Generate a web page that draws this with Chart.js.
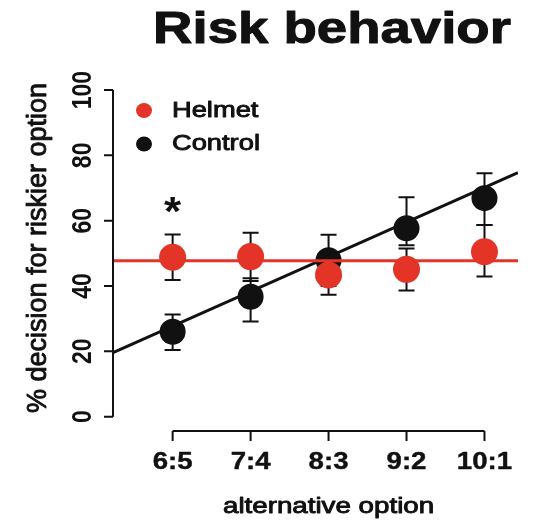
<!DOCTYPE html>
<html>
<head>
<meta charset="utf-8">
<script src="https://cdn.jsdelivr.net/npm/chart.js@4"></script>
<style>
  html, body { margin: 0; padding: 0; background: #fff; }
  #wrap { width: 545px; height: 521px; }
</style>
</head>
<body>
<div id="wrap"><canvas id="risk-chart"></canvas></div>
<script>
"use strict";

// values
const categories = ['6:5', '7:4', '8:3', '9:2', '10:1'];
const helmet_mean = [48.8, 49.0, 43.4, 45.1, 50.5];
const helmet_upper = [55.8, 56.3, 49.5, 51.5, 58.7];
const helmet_lower = [41.8, 41.5, 37.3, 38.6, 42.9];
const control_mean = [26.0, 36.7, 47.9, 57.7, 66.9];
const control_upper = [31.3, 42.4, 55.7, 67.2, 74.5];
const control_lower = [20.4, 29.1, 40.0, 52.5, 58.7];
// fitted lines, ends at the plot edges
const fit_x = [-0.765, 4.43];
const helmet_fit = [47.7, 47.7];
const control_fit = [19.6, 74.7];
const y_ticks = [0, 20, 40, 60, 80, 100];
const star_category = [0];
const star_value = [64.8];

const RED = 'rgb(228, 52, 40)';
const BLACK = '#111111';
const FONT = '"Liberation Sans", Arial, Helvetica, sans-serif';

function to_points (xs, ys) {
    return ys.map((y, i) => ({x: xs[i], y: y}));
}

// text helper, sx widens the text on screen the way the figure is widened,
// weight adds a thin outline so the text looks as heavy as the blurry original
function put_text (ctx, text, x, y, font, sx, rot, align, baseline, weight) {
    ctx.save();
    ctx.translate(x, y);
    ctx.scale(sx, 1);
    ctx.rotate(rot);
    ctx.font = font;
    ctx.textAlign = align;
    ctx.textBaseline = baseline;
    ctx.fillStyle = BLACK;
    ctx.fillText(text, 0, 0);
    if (weight) {
        ctx.strokeStyle = BLACK;
        ctx.lineWidth = weight;
        ctx.lineJoin = 'round';
        ctx.strokeText(text, 0, 0);
    }
    ctx.restore();
}

const error_bars = {
    id: 'error_bars',
    beforeDatasetDraw (chart, args) {
        const ds = chart.data.datasets[args.index];
        if (!ds.upper) return;
        const ctx = chart.ctx;
        const xs = chart.scales.x, ys = chart.scales.y;
        ctx.save();
        ctx.strokeStyle = BLACK;
        ctx.lineWidth = 2;
        ds.data.forEach((p, i) => {
            const px = xs.getPixelForValue(p.x);
            const top = ys.getPixelForValue(ds.upper[i]);
            const bot = ys.getPixelForValue(ds.lower[i]);
            ctx.beginPath();
            ctx.moveTo(px, top); ctx.lineTo(px, bot);
            ctx.moveTo(px - 8, top); ctx.lineTo(px + 8, top);
            ctx.moveTo(px - 8, bot); ctx.lineTo(px + 8, bot);
            ctx.stroke();
        });
        ctx.restore();
    }
};

const r_axes = {
    id: 'r_axes',
    afterDraw (chart) {
        const ctx = chart.ctx;
        const area = chart.chartArea;
        const xs = chart.scales.x, ys = chart.scales.y;
        ctx.save();
        ctx.strokeStyle = BLACK;
        ctx.lineWidth = 2;

        // y axis
        const y0 = ys.getPixelForValue(y_ticks[0]);
        const y1 = ys.getPixelForValue(y_ticks[y_ticks.length - 1]);
        ctx.beginPath();
        ctx.moveTo(area.left, y0); ctx.lineTo(area.left, y1);
        y_ticks.forEach((t) => {
            const py = ys.getPixelForValue(t);
            ctx.moveTo(area.left, py); ctx.lineTo(area.left - 9, py);
        });
        // x axis
        const x0 = xs.getPixelForValue(0);
        const x1 = xs.getPixelForValue(categories.length - 1);
        ctx.moveTo(x0, area.bottom); ctx.lineTo(x1, area.bottom);
        categories.forEach((c, i) => {
            const px = xs.getPixelForValue(i);
            ctx.moveTo(px, area.bottom); ctx.lineTo(px, area.bottom + 10);
        });
        ctx.stroke();
        ctx.restore();

        y_ticks.forEach((t) => {
            put_text(ctx, String(t), 83, ys.getPixelForValue(t), 'bold 23px ' + FONT, 1.2, -Math.PI / 2, 'center', 'middle', 0);
        });
        categories.forEach((c, i) => {
            put_text(ctx, c, xs.getPixelForValue(i), 463, 'bold 23px ' + FONT, 1.2, 0, 'center', 'middle', 0.4);
        });

        // axis titles and title
        put_text(ctx, 'alternative option', (x0 + x1) / 2, 507, '22px ' + FONT, 1.26, 0, 'center', 'middle', 0.9);
        put_text(ctx, '% decision for riskier option', 39, 248, '27px ' + FONT, 1, -Math.PI / 2, 'center', 'middle', 0.9);
        put_text(ctx, 'Risk behavior', 332, 43, 'bold 44px ' + FONT, 1.24, 0, 'center', 'alphabetic', 1);

        // legend in the top left corner of the plot
        const legend = [[chart.data.datasets[1].label, RED, 110.5], [chart.data.datasets[3].label, BLACK, 144]];
        legend.forEach(([label, color, ly]) => {
            ctx.save();
            ctx.fillStyle = color;
            ctx.beginPath();
            ctx.ellipse(144, ly, 8, 7.5, 0, 0, Math.PI * 2);
            ctx.fill();
            ctx.restore();
            put_text(ctx, label, 172, ly, '22px ' + FONT, 1.24, 0, 'left', 'middle', 0.9);
        });

        // significance star
        star_category.forEach((c, i) => {
            ctx.save();
            ctx.font = 'bold 40px ' + FONT;
            const m = ctx.measureText('*');
            ctx.restore();
            const cy = ys.getPixelForValue(star_value[i]);
            const base = cy + (m.actualBoundingBoxAscent - m.actualBoundingBoxDescent) / 2;
            put_text(ctx, '*', xs.getPixelForValue(c), base, 'bold 40px ' + FONT, 1.1, 0, 'center', 'alphabetic', 0);
        });
    }
};

const chart_ctx = document.getElementById('risk-chart').getContext('2d');
const risk_chart = new Chart(chart_ctx, {
    type: 'scatter',
    data: {
        datasets: [
            {
                label: 'Helmet fit',
                data: to_points(fit_x, helmet_fit),
                showLine: true,
                borderColor: RED,
                borderWidth: 3,
                pointRadius: 0,
                order: 1,
            },
            {
                label: 'Helmet',
                data: to_points([0, 1, 2, 3, 4], helmet_mean),
                upper: helmet_upper,
                lower: helmet_lower,
                backgroundColor: RED,
                borderWidth: 0,
                pointRadius: 13.5,
                pointHoverRadius: 13.5,
                order: 2,
            },
            {
                label: 'Control fit',
                data: to_points(fit_x, control_fit),
                showLine: true,
                borderColor: BLACK,
                borderWidth: 3,
                pointRadius: 0,
                order: 3,
            },
            {
                label: 'Control',
                data: to_points([0, 1, 2, 3, 4], control_mean),
                upper: control_upper,
                lower: control_lower,
                backgroundColor: BLACK,
                borderWidth: 0,
                pointRadius: 13,
                pointHoverRadius: 13,
                order: 4,
            },
        ]
    },
    options: {
        responsive: true,
        maintainAspectRatio: false,
        animation: false,
        layout: { padding: { left: 113, right: 27, top: 76, bottom: 90 } },
        scales: {
            x: { type: 'linear', min: fit_x[0], max: fit_x[1], display: false },
            y: { type: 'linear', min: -4.4, max: 104.3, display: false },
        },
        plugins: {
            legend: { display: false },
            tooltip: { enabled: false },
        },
    },
    plugins: [error_bars, r_axes],
});
</script>
</body>
</html>
